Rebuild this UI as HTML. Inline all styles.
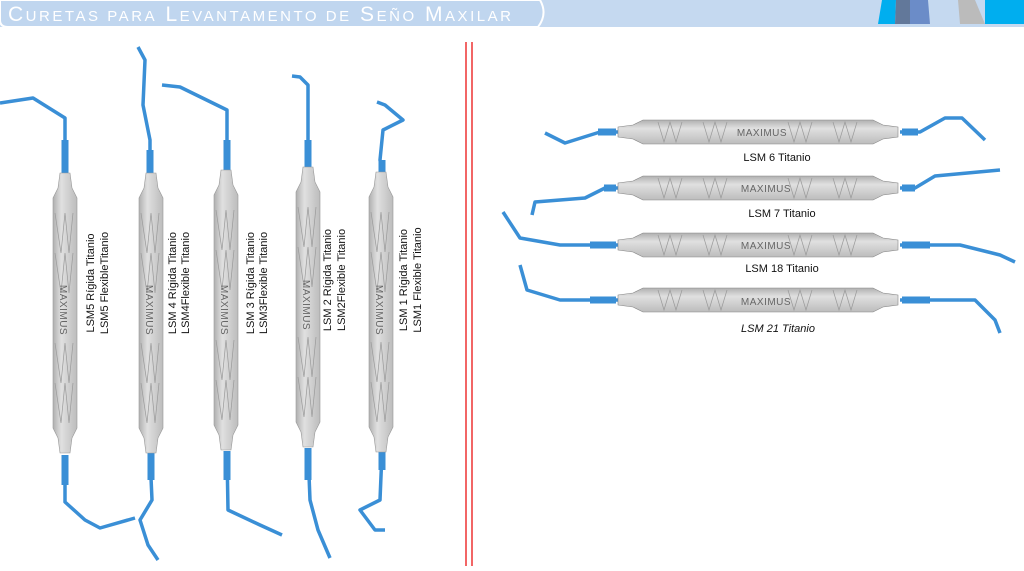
<!DOCTYPE html>
<html><head><meta charset="utf-8"><style>
body{margin:0;width:1024px;height:566px;overflow:hidden;background:#fff;font-family:"Liberation Sans",sans-serif}
</style></head><body>
<svg width="1024" height="566" viewBox="0 0 1024 566" xmlns="http://www.w3.org/2000/svg" font-family="Liberation Sans, sans-serif">
<defs>
<linearGradient id="gv" x1="0" x2="1" y1="0" y2="0"><stop offset="0" stop-color="#b0b0b0"/><stop offset=".35" stop-color="#e0e0e0"/><stop offset="1" stop-color="#bcbcbc"/></linearGradient>
<linearGradient id="gh" x1="0" x2="0" y1="0" y2="1"><stop offset="0" stop-color="#b0b0b0"/><stop offset=".35" stop-color="#e0e0e0"/><stop offset="1" stop-color="#bcbcbc"/></linearGradient>
<g id="vh"><path d="M-5,0 L5,0 L7,15 L12,25 L12,255 L7,265 L5,280 L-5,280 L-7,265 L-12,255 L-12,25 L-7,15 Z" fill="url(#gv)" stroke="#999" stroke-width=".6"/>
<path d="M-10,40 l6,40 l4,-40 l4,40 l4,-40 M-10,80 l6,40 l4,-40 l4,40 l4,-40 M-10,170 l6,40 l4,-40 l4,40 l4,-40 M-10,210 l6,40 l4,-40 l4,40 l4,-40" stroke="#999" fill="none" stroke-width=".7"/></g>
<g id="hh"><path d="M0,-5 L0,5 L15,7 L25,12 L255,12 L265,7 L280,5 L280,-5 L265,-7 L255,-12 L25,-12 L15,-7 Z" fill="url(#gh)" stroke="#888" stroke-width=".6"/>
<path d="M40,-10 l6,20 l6,-20 l6,20 l6,-20 M85,-10 l6,20 l6,-20 l6,20 l6,-20 M170,-10 l6,20 l6,-20 l6,20 l6,-20 M215,-10 l6,20 l6,-20 l6,20 l6,-20" stroke="#999" fill="none" stroke-width=".7"/></g>
</defs>
<rect x="0" y="0" width="1024" height="27" fill="#c5d9f0"/>
<path d="M0,0 H540 Q548,14 538,27 H8 Q0,27 0,20 Z" fill="#c0d6ef" stroke="#fff" stroke-width="2"/>
<text x="8" y="21" font-size="21" fill="#fff" textLength="503" lengthAdjust="spacing">C<tspan font-size="15">URETAS PARA</tspan> L<tspan font-size="15">EVANTAMENTO DE</tspan> S<tspan font-size="15">EÑO</tspan> M<tspan font-size="15">AXILAR</tspan></text>
<polygon points="878,24 882,0 896,0 895,24" fill="#00aeef"/>
<polygon points="895,24 896,0 910,0 910,24" fill="#62789a"/>
<polygon points="910,24 910,0 928,0 930,24" fill="#6b8cc8"/>
<polygon points="960,24 958,0 975,0 985,24" fill="#bbb"/>
<rect x="985" y="0" width="39" height="24" fill="#00aeef"/>
<line x1="466" y1="42" x2="466" y2="566" stroke="#e33" stroke-width="1.5"/>
<line x1="472" y1="42" x2="472" y2="566" stroke="#e33" stroke-width="1.5"/>
<g stroke="#3a8fd6" stroke-width="3.5" fill="none" stroke-linejoin="round">
<path d="M65,173 V118 L33,98 L0,103"/><path d="M65,457 V502 L85,520 L100,528 L135,518"/>
<path d="M150,173 V140 L143,105 L145,60 L138,47"/><path d="M150,455 L152,500 L140,520 L148,545 L158,560"/>
<path d="M227,170 V110 L180,87 L162,85"/><path d="M227,453 L228,510 L260,525 L282,535"/>
<path d="M308,167 V85 L300,77 L292,76"/><path d="M308,450 L310,500 L318,530 L330,558"/>
<path d="M382,172 L380,160 L383,130 L403,120 L385,105 L377,102"/><path d="M382,452 L380,500 L360,510 L375,530 L385,530"/>
<path d="M618,132 H600 L565,143 L545,133"/><path d="M900,132 H920 L945,118 L962,118 L985,140"/>
<path d="M618,188 H605 L585,198 L535,202 L532,215"/><path d="M900,188 H915 L935,176 L1000,170"/>
<path d="M618,245 H560 L520,238 L503,212"/><path d="M900,245 H960 L1000,255 L1015,262"/>
<path d="M618,300 H560 L527,290 L520,265"/><path d="M900,300 H975 L995,320 L1000,333"/>
</g>
<g stroke="#3a8fd6" stroke-width="7" fill="none">
<path d="M65,175 V140"/><path d="M65,455 V485"/><path d="M150,175 V150"/><path d="M151,453 V480"/><path d="M227,172 V140"/><path d="M227,451 V480"/><path d="M308,169 V140"/><path d="M308,448 V480"/><path d="M382,174 V160"/><path d="M382,450 V470"/>
<path d="M616,132 H598"/><path d="M902,132 H918"/><path d="M616,188 H604"/><path d="M902,188 H915"/><path d="M616,245 H590"/><path d="M902,245 H930"/><path d="M616,300 H590"/><path d="M902,300 H930"/>
</g>
<use href="#vh" x="65" y="173"/><use href="#vh" x="151" y="173"/><use href="#vh" x="226" y="170"/><use href="#vh" x="308" y="167"/><use href="#vh" x="381" y="172"/>
<use href="#hh" x="618" y="132"/><use href="#hh" x="618" y="188"/><use href="#hh" x="618" y="245"/><use href="#hh" x="618" y="300"/>
<g font-size="10" fill="#666" text-anchor="middle" letter-spacing=".5">
<text transform="translate(60,310) rotate(90)">MAXIMUS</text><text transform="translate(146,310) rotate(90)">MAXIMUS</text><text transform="translate(221,310) rotate(90)">MAXIMUS</text><text transform="translate(303,305) rotate(90)">MAXIMUS</text><text transform="translate(376,310) rotate(90)">MAXIMUS</text>
<text x="762" y="136">MAXIMUS</text><text x="766" y="192">MAXIMUS</text><text x="766" y="249">MAXIMUS</text><text x="766" y="305">MAXIMUS</text>
</g>
<g font-size="11" fill="#111" text-anchor="middle">
<text transform="translate(94,283) rotate(-90)">LSM5 Rígida Titanio</text><text transform="translate(108,283) rotate(-90)">LSM5 FlexibleTitanio</text>
<text transform="translate(176,283) rotate(-90)">LSM 4 Rígida Titanio</text><text transform="translate(189,283) rotate(-90)">LSM4Flexible Titanio</text>
<text transform="translate(254,283) rotate(-90)">LSM 3 Rígida Titanio</text><text transform="translate(267,283) rotate(-90)">LSM3Flexible Titanio</text>
<text transform="translate(331,280) rotate(-90)">LSM 2 Rígida Titanio</text><text transform="translate(345,280) rotate(-90)">LSM2Flexible Titanio</text>
<text transform="translate(407,280) rotate(-90)">LSM 1 Rígida Titanio</text><text transform="translate(421,280) rotate(-90)">LSM1 Flexible Titanio</text>
<text x="777" y="161">LSM 6 Titanio</text><text x="782" y="217">LSM 7 Titanio</text><text x="782" y="272">LSM 18 Titanio</text><text x="778" y="332" font-style="italic">LSM 21 Titanio</text>
</g>
</svg>
</body></html>
